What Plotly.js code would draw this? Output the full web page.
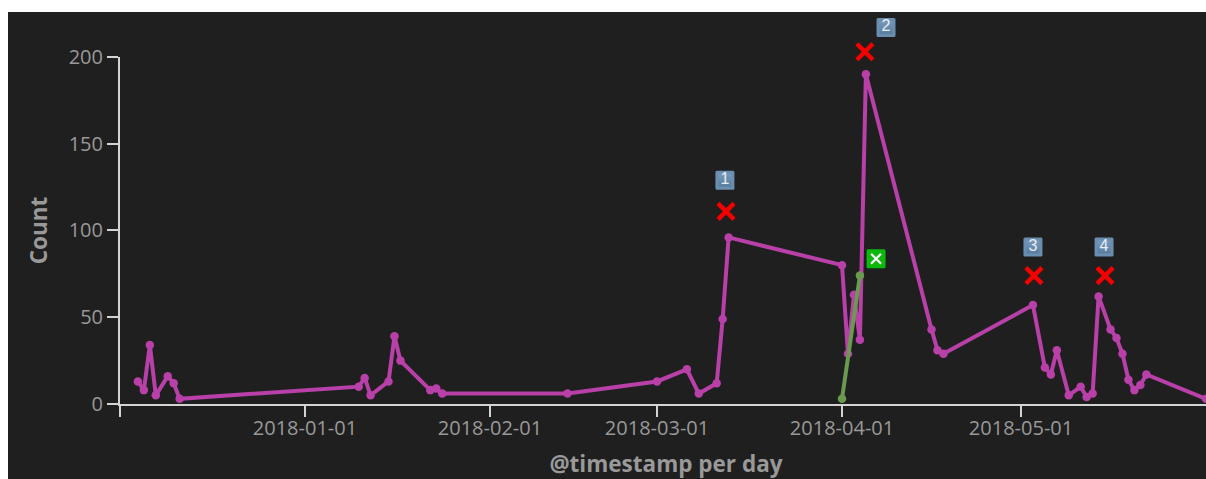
<!DOCTYPE html>
<html>
<head>
<meta charset="utf-8">
<script src="https://cdn.plot.ly/plotly-3.0.1.min.js"></script>
<style>
html,body{margin:0;padding:0;background:#fff;overflow:hidden;}
#chart{position:absolute;left:8px;top:12px;width:1198px;height:467px;}
</style>
</head>
<body>
<div id="chart"></div>
<script>
const countDates = ['2017-12-04','2017-12-05','2017-12-06','2017-12-07','2017-12-09','2017-12-10','2017-12-11',
  '2018-01-10','2018-01-11','2018-01-12','2018-01-15','2018-01-16','2018-01-17','2018-01-22','2018-01-23','2018-01-24',
  '2018-02-14','2018-03-01','2018-03-06','2018-03-08','2018-03-11','2018-03-12','2018-03-13',
  '2018-04-01','2018-04-02','2018-04-03','2018-04-04','2018-04-05','2018-04-16','2018-04-17','2018-04-18',
  '2018-05-03','2018-05-05','2018-05-06','2018-05-07','2018-05-09','2018-05-11','2018-05-12','2018-05-13','2018-05-14',
  '2018-05-16','2018-05-17','2018-05-18','2018-05-19','2018-05-20','2018-05-21','2018-05-22','2018-06-01'];
const countValues = [13,8,34,5,16,12,3,
  10,15,5,13,39,25,8,9,6,
  6,13,20,6,12,49,96,
  80,29,63,37,190,43,31,29,
  57,21,17,31,5,10,4,6,62,
  43,38,29,14,8,11,17,3];
const greenDates = ['2018-04-01','2018-04-04'];
const greenValues = [3,74];
const anomalyDates = ['2018-03-12 13:30','2018-04-04 20:00','2018-05-03 04:00','2018-05-15 02:00'];
const anomalyValues = [111,203,74,74];
const badgeDates = ['2018-03-12 09:00','2018-04-08 09:00','2018-05-03 00:00','2018-05-14 22:00'];
const badgeValues = [129,217,90.5,90.5];
const badgeLabels = ['1','2','3','4'];
const okDates = ['2018-04-06 17:00'];
const okValues = [83.7];
const xTickVals = ['2017-12-01','2018-01-01','2018-02-01','2018-03-01','2018-04-01','2018-05-01'];
const xTickText = ['','2018-01-01','2018-02-01','2018-03-01','2018-04-01','2018-05-01'];
const yTickVals = [0,50,100,150,200];
const xRange = ['2017-12-01','2018-06-01'];
const yRange = [0,200];
const overlayYRange = [0,225.9];

const fontFamily = '"Open Sans", sans-serif';
const traces = [
  {x:countDates,y:countValues,mode:'lines+markers',type:'scatter',
   line:{color:'#b840a8',width:4},marker:{color:'#b840a8',size:8.5},hoverinfo:'skip'},
  {x:greenDates,y:greenValues,mode:'lines+markers',type:'scatter',
   line:{color:'#6a9a50',width:4},marker:{color:'#6a9a50',size:8.5},hoverinfo:'skip'},
  {x:anomalyDates,y:anomalyValues,yaxis:'y2',mode:'markers',type:'scatter',
   marker:{symbol:'x-thin',size:16,color:'#f40000',line:{color:'#f40000',width:4.5}},hoverinfo:'skip'},
  {x:badgeDates,y:badgeValues,yaxis:'y2',mode:'markers+text',type:'scatter',
   text:badgeLabels,textposition:'middle center',textfont:{family:'"Liberation Sans", sans-serif',size:16,color:'#e8eef4'},
   marker:{symbol:'square',size:16,color:'#7a9cbf',gradient:{type:'vertical',color:'#557a9c'},line:{color:'#6a8eb0',width:3}},hoverinfo:'skip'},
  {x:okDates,y:okValues,yaxis:'y2',mode:'markers',type:'scatter',
   marker:{symbol:'square',size:16,color:'#0bb80b',line:{color:'#0bb80b',width:3}},hoverinfo:'skip'},
  {x:okDates,y:okValues,yaxis:'y2',mode:'markers',type:'scatter',
   marker:{symbol:'x-thin',size:10,color:'#ffffff',line:{color:'#ffffff',width:2.2}},hoverinfo:'skip'}
];
const axisCommon = {
  showgrid:false,zeroline:false,showline:true,linecolor:'#d4d4d4',linewidth:2,
  ticks:'outside',tickcolor:'#d4d4d4',tickwidth:2,ticklen:11,
  tickfont:{family:fontFamily,size:20,color:'#999999'}
};
const layout = {
  width:1198,height:467,
  paper_bgcolor:'#1f1f1f',plot_bgcolor:'rgba(0,0,0,0)',
  margin:{l:112,r:0,t:0,b:74.5},
  showlegend:false,
  xaxis:Object.assign({},axisCommon,{type:'date',range:xRange,tickmode:'array',tickvals:xTickVals,ticktext:xTickText,
    ticklabelstandoff:-6,
    title:{text:'@timestamp per day',font:{family:fontFamily,size:22.5,color:'#999999',weight:'bold'},standoff:19}}),
  yaxis:Object.assign({},axisCommon,{range:yRange,domain:[0,347.5/392.5],tickmode:'array',tickvals:yTickVals,
    title:{text:'Count',font:{family:fontFamily,size:22.5,color:'#999999',weight:'bold'},standoff:15}}),
  yaxis2:{range:overlayYRange,domain:[0,1],anchor:'x',visible:false,fixedrange:true}
};
Plotly.newPlot('chart',traces,layout,{displayModeBar:false,staticPlot:true}).then(()=>{
  document.querySelectorAll('.scatterlayer .trace .points path').forEach(p=>{p.style.strokeLinejoin='round';});
  const t=document.querySelector('.xtitle');
  if(t){t.setAttribute('x',parseFloat(t.getAttribute('x'))+3);}
});
</script>
</body>
</html>
